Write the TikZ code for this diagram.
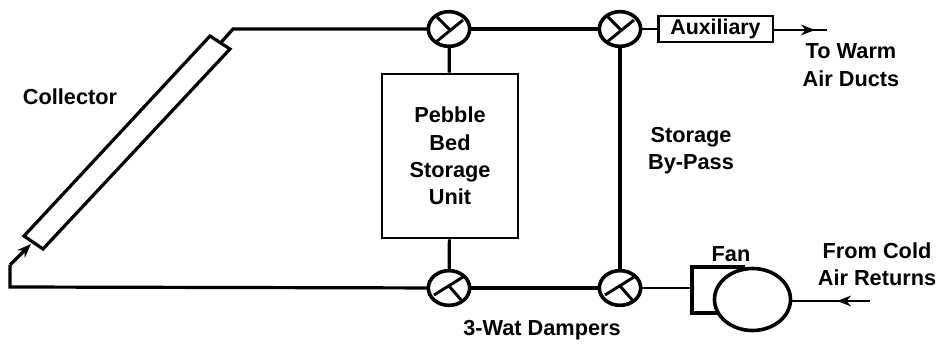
\documentclass[tikz,border=0pt]{standalone}
\usepackage{fontspec}
\setmainfont{Liberation Sans}
\usetikzlibrary{arrows.meta,calc,shapes.geometric}
\tikzset{
  x=0.75pt,y=-0.75pt,
  wire/.style={line width=2.4pt},
  thin wire/.style={line width=1.6pt},
  boxed/.style={draw,line width=2pt,inner sep=0pt,fill=white},
  damper/.style={ellipse,draw,line width=2.7pt,minimum width=31pt,minimum height=26pt,inner sep=0pt,outer sep=0pt,fill=white},
  lbl/.style={font=\fontsize{16.3}{20.5}\selectfont\bfseries,align=center,inner sep=0pt},
  blade/.style={line width=2.2pt},
  tip/.style={-{Stealth[length=10.5pt,width=8pt]}}
}
\begin{document}
\begin{tikzpicture}
\useasboundingbox (0,0) rectangle (943,349);
\coordinate (c1) at (24,236); \coordinate (c2) at (210,36);
\coordinate (c3) at (230,49); \coordinate (c4) at (43,249);
\coordinate (ctop) at (221,42.5); \coordinate (cbot) at (31,244);
\coordinate (bendT) at (233,29); \coordinate (bendL) at (10,265); \coordinate (cornerL) at (10,287);
\node[damper] (d1) at (449,29) {};
\node[damper] (d2) at (620,29) {};
\node[damper] (d3) at (449,288) {};
\node[damper] (d4) at (620,288) {};
\node[boxed,minimum width=86pt,minimum height=19.5pt,font=\fontsize{16}{20}\selectfont\bfseries] (aux) at (715.5,29) {Auxiliary};
\node[boxed,minimum width=102pt,minimum height=123pt,lbl] (bed) at (450,156) {Pebble\\Bed\\Storage\\Unit};
\coordinate (fanbox1) at (692,267); \coordinate (fanbox2) at (692,313);
\coordinate (fanmid) at (692,288);
\coordinate (warm) at (827,30);
\coordinate (warmtip) at (815,30);
\coordinate (cold) at (870,301);
\coordinate (coldtip) at (837,301);
\draw[wire] (ctop) -- (bendT) -- (d1);
\draw[wire] (d1) -- (d2);
\draw[thin wire] (d2) -- (aux);
\draw[thin wire] (aux.east|-warm) -- (warm);
\draw[thin wire,tip] (aux.east|-warm) -- (warmtip);
\draw[wire] (d1) -- (bed);
\draw[wire] (d3) -- (bed);
\draw[wire] (d2) -- (d4);
\draw[wire] (d3) -- (d4);
\draw[wire] (d3) -- (cornerL) -- (bendL);
\draw[wire,tip] (bendL) -- (cbot);
\draw[thin wire] (d4) -- (fanmid);
\draw[wire,fill=white] (c1) -- (c2) -- (c3) -- (c4) -- cycle;
\coordinate (fantop) at (745,267); \coordinate (fanbot) at (725,313);
\draw[line width=2.4pt] (fantop) -- (fanbox1) -- (fanbox2) -- (fanbot);
\node[ellipse,draw,line width=2.7pt,minimum width=57pt,minimum height=46.5pt,inner sep=0pt,outer sep=0pt,fill=white] (fan) at (752.5,299.5) {};
\draw[thin wire] (cold) -- (fan.east|-cold);
\draw[thin wire,tip] (cold) -- (coldtip);
\foreach \d in {d1,d2}{
  \draw[blade] ($(\d.center)+(-13,13)$) -- ($(\d.center)+(14,-9)$);
  \draw[blade] ($(\d.center)+(-12,-12)$) -- ($(\d.center)+(1,1)$);
}
\foreach \d in {d3,d4}{
  \draw[blade] ($(\d.center)+(-15,7)$) -- ($(\d.center)+(14,-11)$);
  \draw[blade] ($(\d.center)+(0,-2)$) -- ($(\d.center)+(14,14)$);
}
\node[lbl] (t1) at (70,97) {Collector};
\node[lbl] (t2) at (851,65) {To Warm\\Air Ducts};
\node[lbl] (t3) at (691,151) {Storage\\By-Pass};
\node[lbl] (t4) at (731,254) {Fan};
\node[lbl] (t5) at (877,264) {From Cold\\Air Returns};
\node[lbl] (t6) at (542,330) {3-Wat Dampers};
\end{tikzpicture}
\end{document}
